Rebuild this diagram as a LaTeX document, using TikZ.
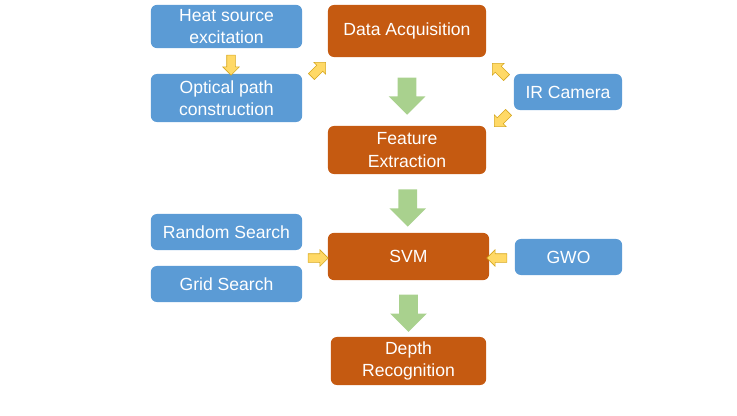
\documentclass[tikz,border=0pt]{standalone}
\usepackage{fontspec}
\setmainfont{Liberation Sans}
\usetikzlibrary{shapes.arrows,calc}

\definecolor{boxblue}{HTML}{5B9BD5}
\definecolor{boxorange}{HTML}{C55A11}
\definecolor{arrgreen}{HTML}{A9D18E}
\definecolor{arryellow}{HTML}{FFD966}
\definecolor{arredge}{HTML}{D6A821}

\tikzset{
  box/.style={rectangle, rounded corners=0.15cm, text=white, align=center,
    font=\fontsize{12.5}{16}\selectfont, inner sep=0pt},
  bluebox/.style={box, fill=boxblue},
  orangebox/.style={box, fill=boxorange},
  bigarrow/.style={single arrow, fill=arrgreen, minimum height=0.93cm,
    inner xsep=0pt, inner ysep=0.225cm, single arrow head extend=0.225cm, rotate=-90},
  smallarrow/.style={single arrow, fill=arryellow, draw=arredge, line width=0.4pt,
    minimum height=0.5cm, inner xsep=0pt, inner ysep=0.1cm, single arrow head extend=0.1cm},
}

\begin{document}
\begin{tikzpicture}[x=0.025cm, y=-0.025cm]

\useasboundingbox (0,0) rectangle (737,415);

%% main flow
\node[orangebox, minimum width=3.95cm, minimum height=1.3cm] (daq) at (407,31) {Data Acquisition};
\node[orangebox, minimum width=3.95cm, minimum height=1.2cm] (feat) at (407,150) {Feature\\Extraction};
\node[orangebox, minimum width=4.03cm, minimum height=1.18cm] (svm) at (408.5,256.5) {SVM};
\node[orangebox, minimum width=3.88cm, minimum height=1.2cm] (depth) at (408.5,361) {Depth\\Recognition};

%% inputs
\node[bluebox, minimum width=3.78cm, minimum height=1.08cm] (heat) at (226.5,26.5) {Heat source\\excitation};
\node[bluebox, minimum width=3.78cm, minimum height=1.2cm] (optical) at (226.5,98) {Optical path\\construction};
\node[bluebox, minimum width=2.7cm, minimum height=0.9cm] (ircam) at (568,92) {IR Camera};
\node[bluebox, minimum width=3.78cm, minimum height=0.9cm] (rand) at (226.5,232) {Random Search};
\node[bluebox, minimum width=3.78cm, minimum height=0.9cm] (grid) at (226.5,284) {Grid Search};
\node[bluebox, minimum width=2.68cm, minimum height=0.9cm] (gwo) at (568.5,257) {GWO};

%% green arrows
\node[bigarrow] (g1) at ($(daq.south)!0.5!(feat.north)$) {};
\node[bigarrow] (g2) at ($(feat.south)!0.5!(svm.north)$) {};
\node[bigarrow] (g3) at ($(svm.south)!0.5!(depth.north)$) {};

%% yellow arrows
\node[smallarrow, rotate=-90] (y1) at (231,63) {};
\node[smallarrow, rotate=45] (y2) at (317,71) {};
\node[smallarrow, rotate=135] (y3) at (501,72) {};
\node[smallarrow, rotate=-135] (y4) at (503,118) {};
\node[smallarrow] (y5) at (316,258) {};
\node[smallarrow, rotate=180] (y6) at (499,258) {};

\end{tikzpicture}
\end{document}
